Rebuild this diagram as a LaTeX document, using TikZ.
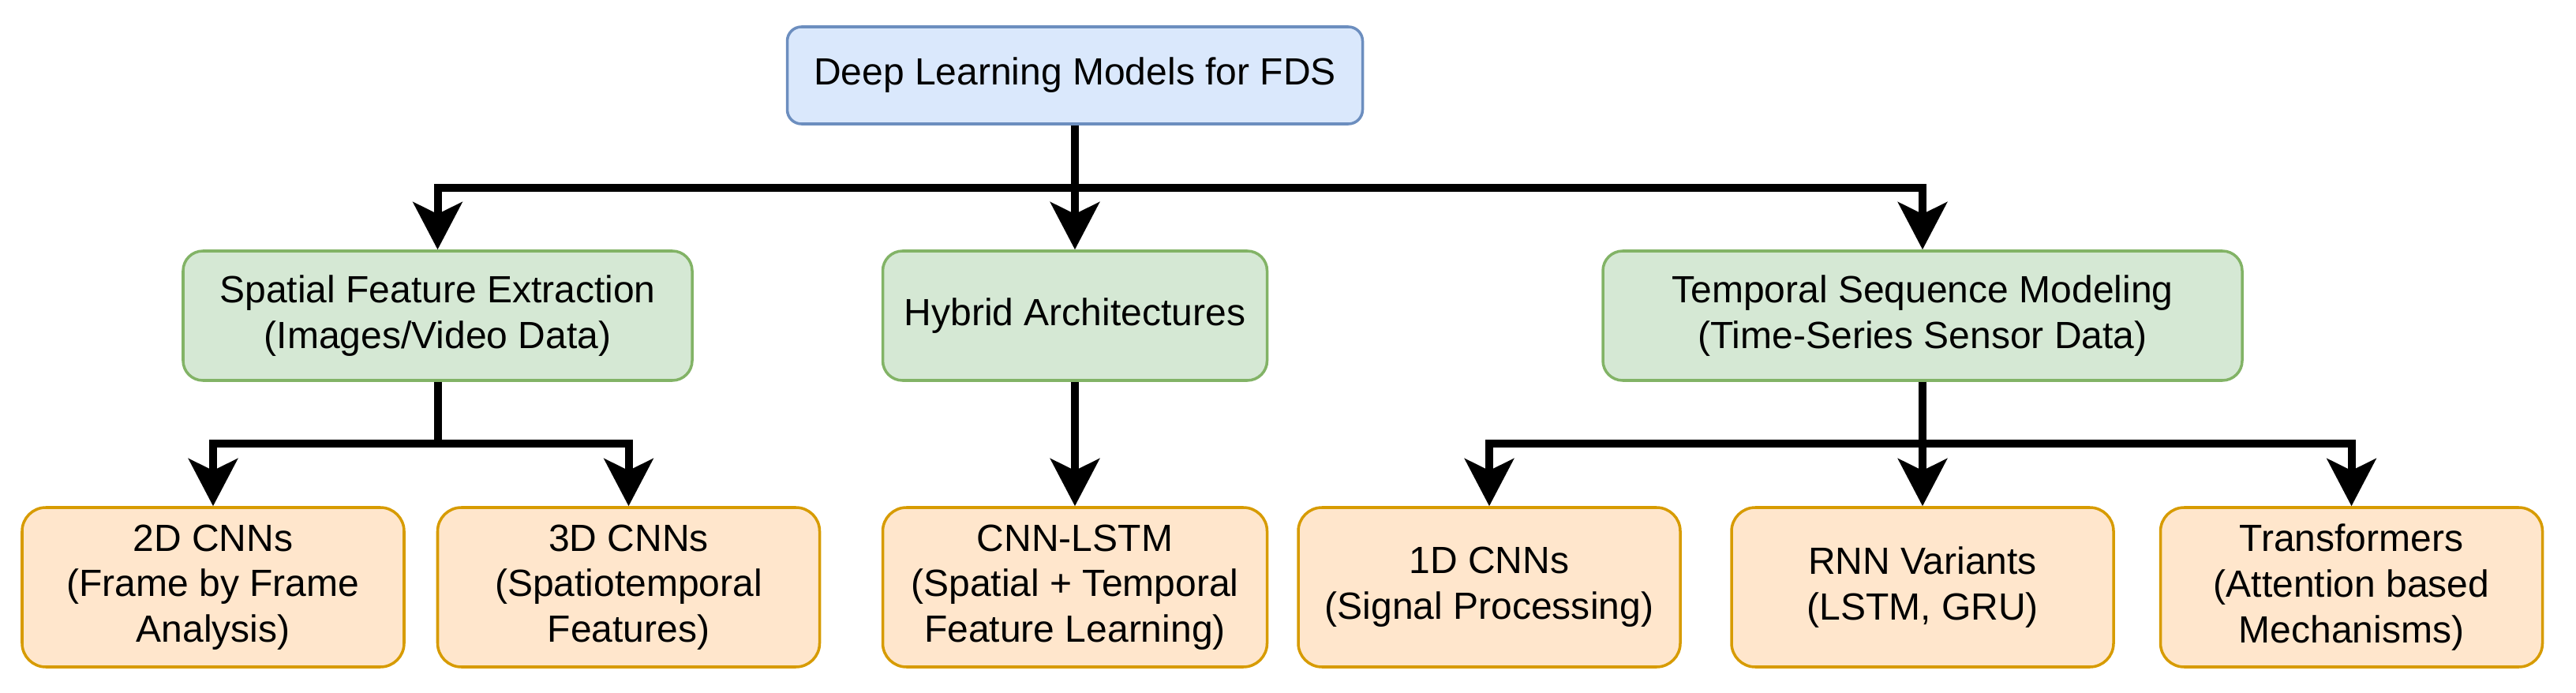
\documentclass[tikz,border=0pt]{standalone}
\usepackage{fontspec}
\setmainfont{Liberation Sans}
\usetikzlibrary{arrows.meta}
\definecolor{rootfill}{HTML}{DAE8FC}
\definecolor{rootline}{HTML}{6C8EBF}
\definecolor{midfill}{HTML}{D5E8D4}
\definecolor{midline}{HTML}{82B366}
\definecolor{leaffill}{HTML}{FFE6CC}
\definecolor{leafline}{HTML}{D79B00}

\begin{document}
\begin{tikzpicture}[>={Stealth[length=6mm,width=6.2mm,inset=1.5mm]},
  box/.style={draw,line width=1pt,align=center,inner sep=0pt,
    font=\fontsize{13.66}{16.4}\selectfont},
  root/.style={box,fill=rootfill,draw=rootline,rounded corners=1.8mm,
    minimum width=72.9mm,minimum height=12.3mm},
  mid/.style={box,fill=midfill,draw=midline,rounded corners=2.5mm,
    minimum height=16.4mm},
  leaf/.style={box,fill=leaffill,draw=leafline,rounded corners=3mm,
    minimum width=48.4mm,minimum height=20.2mm},
  link/.style={->,line width=1mm}]
  \useasboundingbox (0,0) rectangle (32.64,-8.78);
  \node[root] at (13.62,-0.955) (top) {Deep Learning Models for FDS};
  \node[mid,minimum width=64.5mm] at (5.545,-4.00) (spat) {Spatial Feature Extraction\\(Images/Video Data)};
  \node[mid,minimum width=48.7mm] at (13.62,-4.00) (hyb) {Hybrid Architectures};
  \node[mid,minimum width=81mm] at (24.36,-4.00) (temp) {Temporal Sequence Modeling\\(Time-Series Sensor Data)};
  \node[leaf] at (2.70,-7.44) (cnn2d) {2D CNNs\\(Frame by Frame\\Analysis)};
  \node[leaf] at (7.965,-7.44) (cnn3d) {3D CNNs\\(Spatiotemporal\\Features)};
  \node[leaf,minimum width=48.7mm] at (13.62,-7.44) (cnnlstm) {CNN-LSTM\\(Spatial + Temporal\\Feature Learning)};
  \node[leaf] at (18.87,-7.44) (cnn1d) {1D CNNs\\(Signal Processing)};
  \node[leaf] at (24.36,-7.44) (rnn) {RNN Variants\\(LSTM, GRU)};
  \node[leaf] at (29.795,-7.44) (trans) {Transformers\\(Attention based\\Mechanisms)};
  \coordinate (j1) at (13.62,-2.38);
  \coordinate (j2) at (5.545,-5.62);
  \coordinate (j3) at (24.36,-5.62);
  \draw[link] (top.south) -- (j1) -| (spat.north);
  \draw[link] (top.south) -- (hyb.north);
  \draw[link] (top.south) -- (j1) -| (temp.north);
  \draw[link] (spat.south) -- (j2) -| (cnn2d.north);
  \draw[link] (spat.south) -- (j2) -| (cnn3d.north);
  \draw[link] (hyb.south) -- (cnnlstm.north);
  \draw[link] (temp.south) -- (j3) -| (cnn1d.north);
  \draw[link] (temp.south) -- (rnn.north);
  \draw[link] (temp.south) -- (j3) -| (trans.north);
\end{tikzpicture}
\end{document}
